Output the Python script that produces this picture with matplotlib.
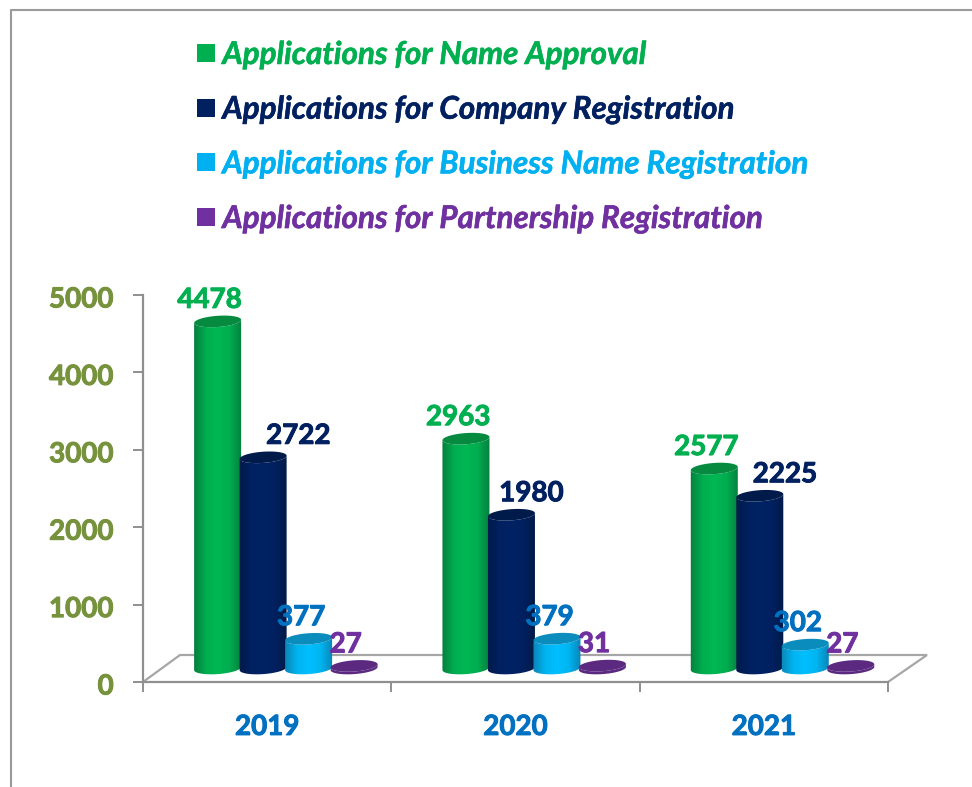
import numpy as np
import matplotlib.pyplot as plt
import matplotlib.patheffects as pe
from matplotlib.lines import Line2D
from matplotlib.path import Path
from matplotlib.patches import PathPatch
from matplotlib.colors import LinearSegmentedColormap
from matplotlib.transforms import ScaledTranslation

plt.rcParams['font.family'] = ['Lato', 'DejaVu Sans']

years = ['2019', '2020', '2021']
name_approval = [4478, 2963, 2577]
company_reg = [2722, 1980, 2225]
business_name_reg = [377, 379, 302]
partnership_reg = [27, 31, 27]
series_names = ['Applications for Name Approval',
                'Applications for Company Registration',
                'Applications for Business Name Registration',
                'Applications for Partnership Registration']
yticks = [0, 1000, 2000, 3000, 4000, 5000]

series = [name_approval, company_reg, business_name_reg, partnership_reg]
legend_cols = ['#00B050', '#002060', '#00B0F0', '#7030A0']
label_cols = ['#00B050', '#002060', '#0070C0', '#7030A0']
# dark edge, bright middle, dark edge
body_cols = [['#05803f', '#00ad4f', '#00b854', '#00ad4f', '#05803f'],
             ['#001a48', '#002060', '#002264', '#002060', '#001a48'],
             ['#0a86b8', '#00b4f0', '#00bfff', '#00b4f0', '#0a86b8'],
             ['#5b2a80', '#5b2a80', '#5b2a80', '#5b2a80', '#5b2a80']]
top_cols = ['#068a40', '#001a4a', '#0a8cbc', '#5b2a80']
grey = '#8f8f8f'

W, H = 972, 787
fig = plt.figure(figsize=(W / 100, H / 100), dpi=100)
ax = fig.add_axes([143 / W, 1 - 682 / H, 745 / W, 387 / H])
ax.set_facecolor('none')

# size of a pixel in data units
px = 3 / 745
py = 5000 / 387


def heavy(txt, col, w=0.7):
    # Lato bold is lighter than the original font, thicken it a bit
    txt.set_path_effects([pe.withStroke(linewidth=w, foreground=col)])


def ellipse_xy(cx, cy, t):
    # tilted a little, right side higher, like the 3d view of the original
    x = cx + 23.5 * px * np.cos(t)
    y = cy + (5.6 * np.sin(t) + 1.6 * np.cos(t)) * py
    return x, y


def cylinder(cx, value, k):
    base = 14 * py
    top = base + value
    t1 = np.linspace(np.pi, 2 * np.pi, 40)
    xb, yb = ellipse_xy(cx, base - 0.5 * py, t1)
    xt, yt = ellipse_xy(cx, top, t1[::-1])
    xy = np.column_stack([np.r_[xb, xt], np.r_[yb, yt]])
    body = Path(np.vstack([xy, xy[:1]]))
    cmap = LinearSegmentedColormap.from_list('c', body_cols[k])
    im = ax.imshow(np.linspace(0, 1, 60).reshape(1, -1), cmap=cmap, aspect='auto',
                   extent=[cx - 24 * px, cx + 24 * px, 0, top + 10 * py], zorder=3 + k * 0.1)
    im.set_clip_path(body, ax.transData)
    t2 = np.linspace(0, 2 * np.pi, 80)
    xe, ye = ellipse_xy(cx, top, t2)
    ax.fill(xe, ye, color=top_cols[k], lw=0, zorder=3 + k * 0.1 + 0.01)


# floor of the 3d box
dx, dy = 37 * px, 27 * py
ax.add_patch(PathPatch(Path([(0, 0), (dx, dy), (3 + 39 * px, dy), (3, 0)]), fc='none',
                       ec='#a6a6a6', lw=1.6, clip_on=False, zorder=1))

for k, vals in enumerate(series):
    for i, v in enumerate(vals):
        cx = i + 0.5 + 18.7 * px + (k - 1.5) * 45.5 * px
        cylinder(cx, v, k)
        xoff = [-8, [35, 20, 25][i], -7.5, -8.5][k]
        t = ax.annotate(str(v), (cx, 14 * py + v), xytext=(xoff * 0.72, 21.5 * 0.72),
                        textcoords='offset points', ha='center', va='center',
                        color=label_cols[k], fontsize=20, fontweight='bold', zorder=6,
                        annotation_clip=False)
        heavy(t, label_cols[k])

ax.set_xlim(0, 3)
ax.set_ylim(0, 5000)
for s in ['top', 'right']:
    ax.spines[s].set_visible(False)
for s in ['left', 'bottom']:
    ax.spines[s].set_color(grey)
    ax.spines[s].set_linewidth(1.6)

ax.set_xticks([0, 1, 2, 3])
ax.set_xticklabels([])
ax.set_xticks([0.5, 1.5, 2.5], minor=True)
ax.set_xticklabels(years, minor=True, color='#0070C0', fontsize=20, fontweight='bold')
ax.tick_params(axis='x', which='major', length=7, width=1.4, color=grey)
ax.tick_params(axis='x', which='minor', length=0, pad=23)
ax.set_yticks(yticks)
ax.set_yticklabels([str(v) for v in yticks], color='#76923C', fontsize=20, fontweight='bold')
ax.tick_params(axis='y', length=7, width=1.4, color=grey, pad=14)
shift = ScaledTranslation(0, -2 / 100, fig.dpi_scale_trans)
for t in ax.get_yticklabels():
    t.set_transform(t.get_transform() + shift)
    heavy(t, '#76923C')
for t in ax.get_xticklabels(minor=True):
    heavy(t, '#0070C0')

handles = [Line2D([], [], ls='none', marker='s', ms=13, mfc=c, mew=0) for c in legend_cols]
leg = fig.legend(handles, series_names, loc='upper left', bbox_to_anchor=(190 / W, 1 - 41 / H),
                 frameon=False, prop={'size': 22.6, 'style': 'italic', 'weight': 'bold'},
                 labelspacing=0.85, handlelength=1.0, handletextpad=0.03, borderpad=0, borderaxespad=0)
for txt, c in zip(leg.get_texts(), legend_cols):
    txt.set_color(c)
    heavy(txt, c, 0.4)

# outer frame of the slide box, cut by the picture edge
fig.add_artist(Line2D([10.5 / W, 10.5 / W, 1], [0, 1 - 9.5 / H, 1 - 9.5 / H],
                      color='#9a9a9a', lw=1.5))

fig.savefig('out.png', dpi=100)
